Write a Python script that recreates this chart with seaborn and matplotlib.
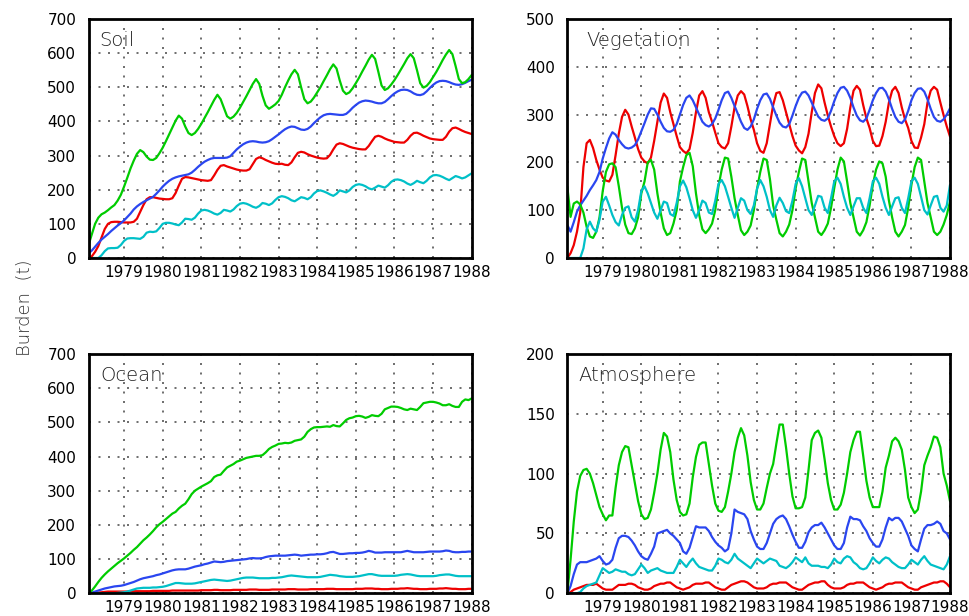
import numpy as np
import pandas as pd
import matplotlib
matplotlib.use("Agg")
import matplotlib.pyplot as plt
import seaborn as sns

# monthly time axis, Jan 1978 .. Dec 1987 (plotted at month end)
months = 1978 + np.arange(1, 121) / 12.0
year_ticks = list(range(1979, 1989))

# ---------------------------
# Soil
# ---------------------------
soil_green = [39, 70, 100, 118, 128, 133, 140, 148, 155, 168, 185, 209,
              235, 262, 285, 305, 316, 310, 297, 288, 287, 293, 307, 323,
              342, 362, 382, 402, 417, 408, 385, 366, 360, 366, 378, 393,
              410, 427, 445, 463, 478, 465, 440, 415, 408, 414, 425, 440,
              457, 474, 492, 510, 524, 510, 475, 447, 437, 443, 450, 460,
              478, 500, 520, 538, 551, 538, 500, 465, 453, 458, 470, 485,
              500, 518, 535, 553, 567, 555, 520, 490, 480, 485, 497, 512,
              528, 546, 563, 581, 595, 583, 545, 505, 492, 497, 508, 521,
              536, 552, 568, 585, 597, 585, 550, 512, 499, 504, 515, 530,
              545, 562, 580, 596, 609, 597, 562, 524, 512, 515, 524, 536]
soil_red = [0, 5, 18, 35, 60, 85, 100, 105, 106, 106, 105, 104,
            104, 104, 106, 115, 135, 155, 172, 178, 178, 176, 174, 173,
            172, 172, 175, 190, 212, 232, 237, 236, 234, 232, 230, 228,
            227, 226, 228, 242, 258, 270, 272, 268, 265, 262, 259, 257,
            256, 256, 260, 275, 290, 295, 292, 287, 283, 279, 276, 275,
            276, 273, 272, 280, 295, 308, 311, 309, 304, 300, 297, 294,
            292, 291, 292, 302, 318, 332, 336, 334, 330, 326, 323, 321,
            319, 318, 318, 328, 342, 355, 358, 355, 350, 346, 343, 340,
            339, 338, 338, 346, 358, 366, 367, 363, 358, 354, 350, 348,
            347, 346, 346, 355, 370, 380, 382, 378, 373, 369, 366, 363]
soil_blue = [14, 22, 33, 44, 54, 62, 70, 79, 87, 95, 102, 110,
             120, 130, 142, 151, 158, 164, 169, 174, 179, 188, 198, 209,
             218, 226, 232, 236, 239, 241, 243, 245, 250, 258, 267, 275,
             282, 287, 291, 293, 293, 293, 293, 294, 298, 308, 318, 326,
             333, 338, 341, 342, 341, 339, 338, 339, 342, 348, 355, 362,
             370, 377, 382, 385, 384, 380, 376, 375, 378, 385, 395, 404,
             412, 418, 421, 422, 421, 420, 419, 419, 422, 430, 440, 448,
             455, 459, 461, 460, 458, 455, 453, 453, 457, 465, 474, 482,
             488, 492, 493, 492, 488, 482, 478, 477, 480, 488, 498, 507,
             514, 518, 519, 518, 515, 511, 508, 507, 509, 513, 518, 522]
soil_cyan = [0, 0, 0, 0, 8, 20, 28, 29, 29, 30, 38, 50,
             57, 58, 58, 57, 56, 62, 74, 77, 76, 78, 88, 100,
             103, 103, 101, 98, 96, 104, 115, 114, 112, 118, 130, 139,
             141, 139, 135, 130, 127, 132, 141, 139, 136, 142, 152, 159,
             161, 159, 155, 150, 147, 152, 161, 159, 155, 160, 170, 178,
             181, 179, 175, 169, 166, 172, 178, 176, 172, 178, 189, 196,
             198, 195, 191, 186, 182, 188, 198, 195, 192, 198, 208, 214,
             216, 214, 210, 204, 201, 206, 212, 209, 206, 213, 223, 229,
             230, 228, 224, 218, 214, 219, 226, 222, 219, 226, 236, 242,
             243, 241, 237, 232, 228, 234, 240, 237, 233, 236, 242, 248]

# ---------------------------
# Vegetation
# ---------------------------
veg_red = [0, 10, 27, 55, 95, 190, 240, 247, 230, 205, 185, 168,
           162, 160, 174, 215, 260, 295, 310, 300, 275, 252, 228, 210,
           202, 198, 210, 245, 285, 325, 344, 335, 305, 280, 255, 232,
           224, 219, 228, 262, 305, 340, 349, 335, 305, 285, 262, 240,
           232, 229, 240, 275, 315, 340, 349, 342, 318, 290, 268, 240,
           224, 220, 240, 280, 320, 345, 347, 330, 305, 280, 255, 235,
           225, 219, 232, 260, 305, 345, 363, 355, 325, 298, 275, 255,
           240, 234, 240, 270, 315, 350, 360, 352, 320, 292, 272, 245,
           234, 235, 255, 285, 325, 350, 358, 345, 315, 290, 272, 245,
           231, 230, 252, 280, 325, 350, 358, 352, 325, 299, 275, 254]
veg_blue = [69, 55, 75, 97, 110, 120, 130, 142, 152, 163, 180, 208,
            230, 250, 263, 258, 247, 238, 231, 229, 231, 236, 248, 265,
            282, 300, 313, 312, 300, 285, 272, 265, 264, 268, 280, 300,
            320, 335, 340, 330, 315, 300, 285, 278, 275, 280, 292, 310,
            330, 345, 348, 335, 318, 302, 285, 272, 268, 275, 290, 312,
            330, 342, 344, 333, 315, 298, 283, 275, 273, 280, 298, 318,
            335, 346, 348, 340, 325, 310, 296, 289, 287, 292, 308, 328,
            345, 356, 358, 350, 335, 315, 298, 288, 285, 292, 310, 330,
            345, 355, 356, 348, 332, 312, 295, 285, 282, 290, 308, 330,
            345, 354, 355, 348, 332, 312, 295, 287, 285, 290, 300, 313]
veg_green = [149, 86, 114, 118, 112, 95, 65, 45, 42, 55, 85, 140,
             180, 196, 198, 190, 150, 105, 70, 52, 50, 62, 85, 135,
             160, 200, 205, 185, 135, 95, 62, 48, 52, 72, 100, 160,
             190, 215, 220, 192, 135, 90, 60, 52, 60, 72, 100, 150,
             185, 210, 208, 170, 125, 90, 58, 48, 55, 68, 100, 145,
             180, 208, 205, 165, 110, 80, 52, 45, 55, 70, 100, 146,
             180, 208, 205, 160, 115, 85, 55, 48, 58, 72, 105, 146,
             185, 210, 202, 160, 115, 85, 55, 47, 58, 75, 110, 153,
             185, 202, 198, 170, 120, 85, 55, 45, 55, 69, 105, 153,
             190, 210, 205, 160, 115, 85, 55, 48, 55, 70, 90, 118]
veg_cyan = [0, 0, 0, 0, 0, 20, 60, 76, 62, 55, 80, 118,
            128, 110, 90, 75, 68, 90, 105, 108, 85, 76, 100, 140,
            150, 135, 115, 95, 82, 100, 118, 115, 92, 88, 115, 150,
            162, 148, 125, 100, 84, 100, 120, 115, 95, 92, 120, 155,
            163, 150, 128, 105, 84, 105, 125, 120, 100, 92, 110, 145,
            163, 150, 128, 100, 86, 110, 126, 115, 98, 94, 120, 155,
            167, 150, 125, 100, 90, 110, 130, 128, 105, 94, 125, 160,
            168, 155, 128, 105, 90, 108, 125, 125, 105, 94, 125, 160,
            168, 155, 128, 105, 90, 108, 125, 127, 105, 94, 125, 160,
            168, 155, 128, 100, 91, 110, 128, 130, 105, 97, 110, 153]

# ---------------------------
# Ocean
# ---------------------------
ocean_green = [0, 8, 20, 33, 45, 55, 64, 72, 80, 88, 95, 102,
               110, 118, 127, 135, 145, 155, 163, 172, 182, 193, 202, 209,
               217, 225, 233, 238, 248, 256, 262, 275, 290, 300, 306, 312,
               317, 322, 328, 340, 345, 347, 358, 368, 373, 378, 385, 388,
               392, 396, 398, 400, 402, 402, 404, 412, 422, 428, 432, 437,
               438, 440, 439, 441, 446, 448, 450, 458, 472, 480, 485, 486,
               486, 487, 488, 487, 492, 489, 488, 497, 507, 512, 514, 518,
               519, 517, 513, 516, 521, 519, 518, 525, 538, 542, 546, 546,
               545, 542, 538, 536, 540, 538, 536, 545, 556, 558, 560, 560,
               558, 555, 550, 550, 553, 548, 545, 545, 560, 567, 565, 570]
ocean_blue = [0, 2, 5, 8, 11, 14, 16, 18, 20, 21, 22, 24,
              27, 30, 33, 37, 41, 44, 46, 48, 50, 53, 55, 58,
              61, 64, 67, 69, 70, 70, 70, 72, 75, 78, 80, 82,
              85, 87, 90, 93, 92, 91, 92, 94, 95, 96, 97, 98,
              99, 100, 102, 103, 102, 102, 103, 106, 108, 109, 110, 110,
              110, 110, 111, 112, 113, 112, 110, 111, 112, 113, 113, 114,
              114, 115, 117, 120, 121, 118, 115, 115, 116, 117, 117, 118,
              118, 119, 121, 124, 122, 119, 119, 119, 120, 120, 120, 120,
              120, 120, 122, 124, 122, 120, 120, 120, 120, 121, 122, 122,
              122, 122, 123, 125, 124, 121, 120, 120, 121, 121, 122, 122]
ocean_cyan = [0, 0, 0, 0, 0, 0, 0, 0, 0, 1, 2, 3,
              5, 8, 11, 14, 15, 16, 16, 16, 17, 17, 18, 19,
              21, 24, 27, 30, 30, 29, 28, 28, 28, 29, 31, 33,
              35, 37, 39, 40, 39, 38, 37, 36, 37, 39, 41, 43,
              45, 46, 46, 46, 45, 44, 44, 44, 44, 45, 45, 46,
              47, 49, 51, 52, 51, 50, 49, 48, 47, 47, 47, 47,
              48, 50, 52, 54, 53, 52, 50, 49, 48, 48, 48, 49,
              50, 52, 54, 56, 56, 54, 52, 51, 51, 51, 51, 51,
              52, 54, 55, 56, 55, 53, 51, 50, 50, 50, 50, 50,
              51, 53, 54, 55, 55, 53, 51, 50, 50, 50, 50, 50]
ocean_red = [0, 0, 1, 2, 3, 4, 5, 5, 5, 5, 5, 5,
             5, 6, 6, 6, 6, 6, 6, 6, 7, 7, 7, 7,
             7, 7, 8, 8, 8, 8, 8, 8, 8, 8, 8, 9,
             9, 9, 9, 10, 10, 9, 9, 9, 9, 10, 10, 10,
             10, 10, 11, 11, 11, 10, 10, 10, 10, 11, 11, 11,
             11, 11, 12, 12, 12, 11, 11, 11, 11, 12, 12, 12,
             12, 12, 13, 13, 13, 12, 12, 12, 12, 12, 12, 13,
             13, 13, 14, 14, 14, 13, 13, 12, 12, 12, 13, 13,
             13, 14, 14, 15, 14, 13, 13, 12, 12, 12, 13, 13,
             13, 14, 14, 15, 14, 13, 13, 12, 12, 12, 13, 13]

# ---------------------------
# Atmosphere
# ---------------------------
atm_green = [0, 28, 60, 85, 98, 103, 104, 100, 92, 82, 72, 66,
             61, 65, 65, 88, 107, 118, 123, 122, 107, 92, 77, 66,
             62, 63, 70, 84, 100, 120, 134, 131, 118, 95, 78, 68,
             65, 66, 75, 97, 114, 124, 126, 126, 108, 90, 75, 69,
             68, 72, 85, 100, 118, 130, 138, 132, 115, 93, 78, 70,
             70, 75, 88, 100, 108, 125, 141, 141, 122, 100, 81, 71,
             71, 72, 80, 103, 128, 134, 136, 130, 112, 92, 78, 70,
             70, 74, 84, 100, 118, 128, 135, 135, 115, 94, 80, 72,
             72, 72, 85, 105, 115, 127, 130, 127, 120, 103, 80, 72,
             67, 70, 85, 107, 115, 122, 131, 130, 122, 100, 90, 77]
atm_blue = [0, 6, 16, 24, 26, 26, 26, 27, 28, 29, 31, 27,
            24, 25, 28, 38, 46, 48, 48, 47, 44, 40, 35, 31,
            29, 28, 33, 39, 50, 51, 52, 53, 50, 48, 45, 42,
            35, 33, 38, 47, 56, 55, 55, 55, 52, 47, 43, 40,
            38, 35, 37, 50, 70, 68, 67, 66, 62, 52, 45, 39,
            37, 37, 42, 50, 58, 62, 64, 65, 62, 56, 49, 43,
            38, 38, 43, 51, 55, 57, 57, 59, 55, 50, 45, 40,
            37, 37, 42, 55, 64, 62, 62, 61, 56, 52, 46, 42,
            39, 39, 45, 55, 63, 61, 63, 63, 60, 54, 48, 40,
            37, 35, 45, 54, 57, 57, 58, 60, 58, 52, 50, 45]
atm_cyan = [0, 0, 0, 0, 1, 4, 6, 7, 8, 9, 15, 21,
            19, 17, 18, 20, 19, 18, 18, 16, 15, 16, 20, 24,
            21, 17, 19, 20, 21, 19, 18, 17, 17, 17, 22, 28,
            25, 22, 26, 29, 25, 22, 21, 20, 19, 19, 23, 29,
            28, 26, 25, 28, 33, 29, 27, 25, 23, 21, 25, 29,
            27, 25, 27, 29, 28, 27, 23, 22, 21, 23, 26, 30,
            28, 26, 30, 25, 23, 23, 23, 22, 22, 21, 24, 29,
            26, 25, 29, 31, 30, 26, 24, 21, 20, 21, 25, 30,
            27, 25, 28, 30, 29, 26, 24, 22, 21, 21, 24, 28,
            26, 24, 28, 31, 27, 24, 23, 22, 21, 20, 24, 31]
atm_red = [0, 1, 3, 4, 5, 6, 7, 7, 7, 8, 6, 4,
           3, 3, 3, 5, 7, 7, 7, 8, 8, 7, 5, 4,
           3, 3, 4, 6, 7, 8, 8, 9, 9, 7, 5, 4,
           3, 4, 5, 7, 8, 8, 8, 9, 9, 7, 5, 4,
           3, 3, 5, 7, 8, 9, 10, 10, 9, 7, 5, 4,
           4, 4, 5, 7, 8, 8, 9, 9, 9, 7, 5, 4,
           3, 3, 5, 7, 8, 9, 9, 10, 10, 7, 5, 4,
           4, 4, 5, 7, 8, 8, 9, 9, 9, 7, 5, 4,
           3, 4, 5, 7, 8, 8, 9, 9, 9, 7, 5, 4,
           3, 3, 5, 6, 7, 8, 9, 9, 10, 10, 8, 5]

panels = [
    ("Soil", {"cyan": soil_cyan, "red": soil_red, "blue": soil_blue, "green": soil_green}),
    ("Vegetation", {"red": veg_red, "blue": veg_blue, "green": veg_green, "cyan": veg_cyan}),
    ("Ocean", {"red": ocean_red, "cyan": ocean_cyan, "blue": ocean_blue, "green": ocean_green}),
    ("Atmosphere", {"red": atm_red, "cyan": atm_cyan, "blue": atm_blue, "green": atm_green}),
]
ylims = {"Soil": (700, 100), "Vegetation": (500, 100), "Ocean": (700, 100), "Atmosphere": (200, 50)}
title_x = {"Soil": 0.028, "Vegetation": 0.05, "Ocean": 0.03, "Atmosphere": 0.03}

palette = {"green": "#00cc00", "blue": "#2a46f0", "red": "#ee0000", "cyan": "#00c0c8"}

# long-format table for seaborn
rows = []
for name, series in panels:
    for key, vals in series.items():
        rows.append(pd.DataFrame({"panel": name, "series": key, "time": months, "burden": vals}))
df = pd.concat(rows, ignore_index=True)

sns.set_style("white")
plt.rcParams["font.family"] = ["DejaVu Sans"]

fig = plt.figure(figsize=(9.69, 6.16), dpi=100)
positions = [
    [0.0915, 0.5812, 0.3953, 0.388],
    [0.5855, 0.5812, 0.3949, 0.388],
    [0.0915, 0.0369, 0.3953, 0.3885],
    [0.5855, 0.0369, 0.3949, 0.3885],
]

for (name, series), pos in zip(panels, positions):
    ax = fig.add_axes(pos)
    sub = df[df["panel"] == name]
    sns.lineplot(data=sub, x="time", y="burden", hue="series", hue_order=list(series.keys()),
                 palette=palette, linewidth=1.6, legend=False, errorbar=None, ax=ax)
    top, step = ylims[name]
    ax.set_xlim(months[0], 1988.0)
    ax.set_ylim(0, top)
    ax.set_xticks(year_ticks)
    ax.set_xticklabels([str(y) for y in year_ticks])
    ax.set_yticks(np.arange(0, top + 1, step))
    ax.grid(True, color="#555555", linestyle=(0, (1.2, 4.5)), linewidth=1.2)
    ax.set_axisbelow(True)
    for sp in ax.spines.values():
        sp.set_visible(True)
        sp.set_color("black")
        sp.set_linewidth(2.0)
    ax.tick_params(axis="both", direction="out", length=3, width=1.2, colors="black",
                   labelsize=11, pad=2)
    ax.tick_params(axis="y", pad=6)
    ax.set_xlabel("")
    ax.set_ylabel("")
    ax.text(title_x[name], 0.91, name, transform=ax.transAxes, fontsize=14,
            fontweight="light", color="#222222", va="center", ha="left")

fig.text(0.026, 0.5, "Burden  (t)", rotation=90, va="center", ha="center",
         fontsize=13, fontweight="light", color="#333333")

fig.savefig("out.png", dpi=100)
